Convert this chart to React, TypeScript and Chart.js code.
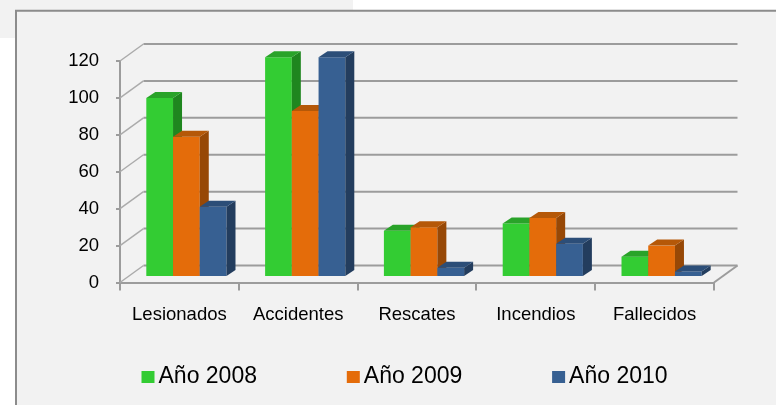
import React, { useEffect, useRef } from "react";
import { Chart, registerables } from "chart.js";

Chart.register(...registerables);

// ---- data ----
const categories = ["Lesionados", "Accidentes", "Rescates", "Incendios", "Fallecidos"];
const seriesLabels = ["Año 2008", "Año 2009", "Año 2010"];
const values2008 = [97, 119, 25, 29, 11];
const values2009 = [76, 90, 27, 32, 17];
const values2010 = [38, 119, 5, 18, 3];
const yMin = 0;
const yMax = 120;
const yStep = 20;

// ---- styles ----
const FONT = "'Liberation Sans', Arial, sans-serif";
const WALL_DX = 23.5;
const WALL_DY = -17;
const BAR_SHIFT_X = 7;
const BAR_SHIFT_Y = -5.5;
const BAR_DX = 9;
const BAR_DY = -6;
const GRID = "#9c9c9c";

const palette = [
  { front: "#33cc33", side: "#1f861f", top: "#29a329" },
  { front: "#e46c0a", side: "#974806", top: "#b55808" },
  { front: "#376092", side: "#233d5e", top: "#2c4e78" },
];

const backgroundPlugin = {
  id: "bg",
  beforeDraw(chart: any) {
    const { ctx, width, height } = chart;
    ctx.save();
    ctx.fillStyle = "#ffffff";
    ctx.fillRect(0, 0, width, height);
    ctx.fillStyle = "#f2f2f2";
    ctx.fillRect(0, 0, 353, 38);
    ctx.fillRect(16, 10, width - 16, height - 10);
    ctx.strokeStyle = "#8c8c8c";
    ctx.lineWidth = 2;
    ctx.beginPath();
    ctx.moveTo(16, height + 2);
    ctx.lineTo(16, 10.7);
    ctx.lineTo(width + 2, 10.7);
    ctx.stroke();
    ctx.restore();
  },
};

const wallPlugin = {
  id: "wall",
  beforeDatasetsDraw(chart: any) {
    const { ctx, chartArea, scales } = chart;
    const { left, right, bottom } = chartArea;
    const y = scales.y;
    ctx.save();
    y.ticks.forEach((t: any) => {
      const py = y.getPixelForValue(t.value);
      ctx.strokeStyle = GRID;
      ctx.lineWidth = 2;
      ctx.beginPath();
      ctx.moveTo(left + WALL_DX, py + WALL_DY);
      ctx.lineTo(right + WALL_DX, py + WALL_DY);
      ctx.stroke();
      ctx.strokeStyle = "#ababab";
      ctx.lineWidth = 1.5;
      ctx.beginPath();
      ctx.moveTo(left, py);
      ctx.lineTo(left + WALL_DX, py + WALL_DY);
      ctx.stroke();
    });
    ctx.strokeStyle = GRID;
    ctx.lineWidth = 2;
    ctx.beginPath();
    ctx.moveTo(right, bottom);
    ctx.lineTo(right + WALL_DX, bottom + WALL_DY);
    ctx.stroke();
    ctx.restore();
  },
};

// Bars are drawn left-to-right (series 0 first) so each bar's front face
// covers the right-hand depth face of its left neighbour.
const bar3dPlugin = {
  id: "bar3d",
  beforeDatasetDraw() {
    return false;
  },
  afterDatasetsDraw(chart: any) {
    const { ctx } = chart;
    ctx.save();
    ctx.translate(BAR_SHIFT_X, BAR_SHIFT_Y);
    chart.data.datasets.forEach((_ds: any, di: number) => {
      const meta = chart.getDatasetMeta(di);
      if (meta.hidden) return;
      const col = palette[di % palette.length];
      meta.data.forEach((el: any) => {
        el.draw(ctx);
        const { x, y, base, width } = el.getProps(["x", "y", "base", "width"], true);
        const xl = x - width / 2;
        const xr = x + width / 2;
        ctx.fillStyle = col.side;
        ctx.beginPath();
        ctx.moveTo(xr, y);
        ctx.lineTo(xr + BAR_DX, y + BAR_DY);
        ctx.lineTo(xr + BAR_DX, base + BAR_DY);
        ctx.lineTo(xr, base);
        ctx.closePath();
        ctx.fill();
        ctx.fillStyle = col.top;
        ctx.beginPath();
        ctx.moveTo(xl, y);
        ctx.lineTo(xl + BAR_DX, y + BAR_DY);
        ctx.lineTo(xr + BAR_DX, y + BAR_DY);
        ctx.lineTo(xr, y);
        ctx.closePath();
        ctx.fill();
      });
    });
    ctx.restore();
  },
};

const legendPlugin = {
  id: "customLegend",
  afterDraw(chart: any) {
    const { ctx } = chart;
    const startX = 141.5;
    const pitch = 205.3;
    ctx.save();
    ctx.font = `23px ${FONT}`;
    ctx.textBaseline = "alphabetic";
    ctx.textAlign = "left";
    chart.data.datasets.forEach((ds: any, i: number) => {
      const bx = startX + i * pitch;
      ctx.fillStyle = ds.backgroundColor;
      ctx.fillRect(bx, 371, 13, 12);
      ctx.fillStyle = "#000000";
      ctx.fillText(ds.label, bx + 17, 383.3);
    });
    ctx.restore();
  },
};

export default function App() {
  const ref = useRef<HTMLCanvasElement | null>(null);

  useEffect(() => {
    if (!ref.current) return;
    const series = [values2008, values2009, values2010];
    const chart = new Chart(ref.current, {
      type: "bar",
      data: {
        labels: categories,
        datasets: series.map((vals, i) => ({
          label: seriesLabels[i],
          data: vals,
          backgroundColor: palette[i].front,
          borderWidth: 0,
          categoryPercentage: 0.675,
          barPercentage: 1,
          clip: false as any,
        })),
      },
      options: {
        responsive: false,
        animation: false,
        devicePixelRatio: 1,
        events: [],
        layout: { padding: { top: 61, right: 62, bottom: 82.5, left: 0 } },
        plugins: {
          legend: { display: false },
          tooltip: { enabled: false },
        },
        scales: {
          x: {
            offset: true,
            ticks: {
              color: "#000000",
              font: { family: FONT, size: 18.5 },
              padding: 13,
              maxRotation: 0,
              autoSkip: false,
            },
            grid: {
              offset: true,
              drawOnChartArea: false,
              drawTicks: true,
              tickLength: 8,
              color: GRID,
              lineWidth: 2,
            },
            border: { display: true, color: GRID, width: 2 },
            afterFit: (s: any) => {
              s.height = 40;
            },
          },
          y: {
            min: yMin,
            max: yMax,
            ticks: {
              stepSize: yStep,
              color: "#000000",
              font: { family: FONT, size: 18.5 },
              padding: 17,
            },
            grid: {
              drawOnChartArea: false,
              drawTicks: true,
              tickLength: 4,
              color: GRID,
              lineWidth: 2,
            },
            border: { display: true, color: GRID, width: 2 },
            afterFit: (s: any) => {
              s.width = 120;
            },
          },
        },
      },
      plugins: [backgroundPlugin, wallPlugin, bar3dPlugin, legendPlugin],
    });
    return () => chart.destroy();
  }, []);

  return (
    <div style={{ position: "absolute", left: 0, top: 0, width: 776, height: 405 }}>
      <canvas ref={ref} width={776} height={405} style={{ display: "block", width: 776, height: 405 }} />
    </div>
  );
}
